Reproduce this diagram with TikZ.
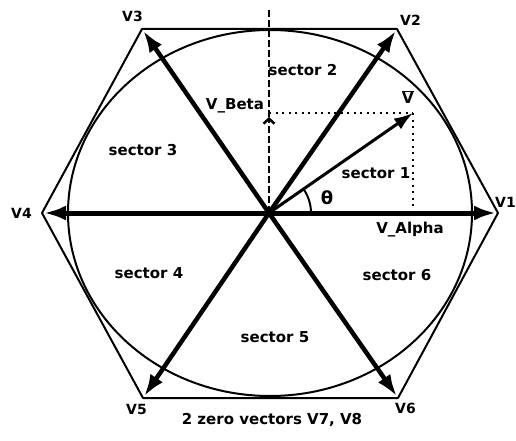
\documentclass[tikz,border=0pt]{standalone}
\usepackage{fontspec}
\setmainfont{DejaVu Sans}
\usetikzlibrary{arrows.meta,positioning}

\begin{document}
\begin{tikzpicture}[
    x=1pt, y=1pt,
    hex/.style={draw=black, line width=2pt, line join=round},
    vec/.style={-{Latex[length=22pt,width=15pt]}, line width=4.5pt, draw=black, shorten >=2pt},
    vref/.style={-{Latex[length=19pt,width=13pt]}, line width=3pt, draw=black},
    proj/.style={draw=black, line width=2.5pt, dash pattern=on 2pt off 4.5pt},
    betaaxis/.style={draw=black, line width=2.5pt, dash pattern=on 7pt off 3pt},
    lbl/.style={inner sep=0pt, font=\fontsize{15}{15}\selectfont\bfseries},
    vlbl/.style={inner sep=0pt, font=\fontsize{14}{14}\selectfont\bfseries}
]
    \useasboundingbox (0,0) rectangle (516,440);

    \coordinate (O) at (269,227);
    \coordinate (P1) at (498,227);
    \coordinate (P2) at (397,411);
    \coordinate (P3) at (142,411);
    \coordinate (P4) at (42,227);
    \coordinate (P5) at (143,42);
    \coordinate (P6) at (398,42);
    \coordinate (Vt) at (413,327);
    \coordinate (Vb) at (269,327);
    \coordinate (Bv) at (269,323);
    \coordinate (Btop) at (269,432);
    \coordinate (Va) at (413,230);

    \draw[hex] (P1) -- (P2) -- (P3) -- (P4) -- (P5) -- (P6) -- cycle;
    \draw[hex] (270,227) ellipse [x radius=202, y radius=183];

    \draw[betaaxis, -{Straight Barb[length=5pt,width=11pt]}] (O) -- (Bv);
    \draw[betaaxis] (Bv) -- (Btop);
    \draw[proj] (Vb) -- (Vt);
    \draw[proj] (Vt) -- (Va);

    \draw[vec, line width=5pt] (O) -- (P1);
    \draw[vec] (O) -- (P2);
    \draw[vec] (O) -- (P3);
    \draw[vec, line width=5pt] (O) -- (P4);
    \draw[vec] (O) -- (P5);
    \draw[vec] (O) -- (P6);
    \draw[vref] (O) -- (Vt);
    \draw[line width=2pt] (O) ++(42,0) arc[start angle=0, end angle=34, radius=42];

    \node[vlbl, above left=5pt and 1pt of P1, xshift=19pt] (v1) {V1};
    \node[vlbl, above right=3pt and 3pt of P2] (v2) {V2};
    \node[vlbl, above left=7pt and -1pt of P3] (v3) {V3};
    \node[vlbl, left=10pt of P4] (v4) {V4};
    \node[vlbl, below left=6pt and -4pt of P5] (v5) {V5};
    \node[vlbl, below right=5pt and -3pt of P6] (v6) {V6};

    \node[lbl] (s1) at (376,267) {sector 1};
    \node[lbl] (s2) at (303,370) {sector 2};
    \node[lbl] (s3) at (143,290) {sector 3};
    \node[lbl] (s4) at (149,167) {sector 4};
    \node[lbl] (s5) at (275,103) {sector 5};
    \node[lbl] (s6) at (397,165) {sector 6};
    \node[lbl] (vbeta) at (235,334) {V\_Beta};
    \node[lbl] (valpha) at (410,210) {V\_Alpha};
    \node[lbl, font=\fontsize{18}{18}\selectfont\bfseries] (theta) at (327,242) {θ};
    \node[lbl] (vlab) at (408,343) {$\overline{\hbox{V}}$};
    \node[lbl] (zero) at (272,20) {2 zero vectors V7, V8};
\end{tikzpicture}
\end{document}
